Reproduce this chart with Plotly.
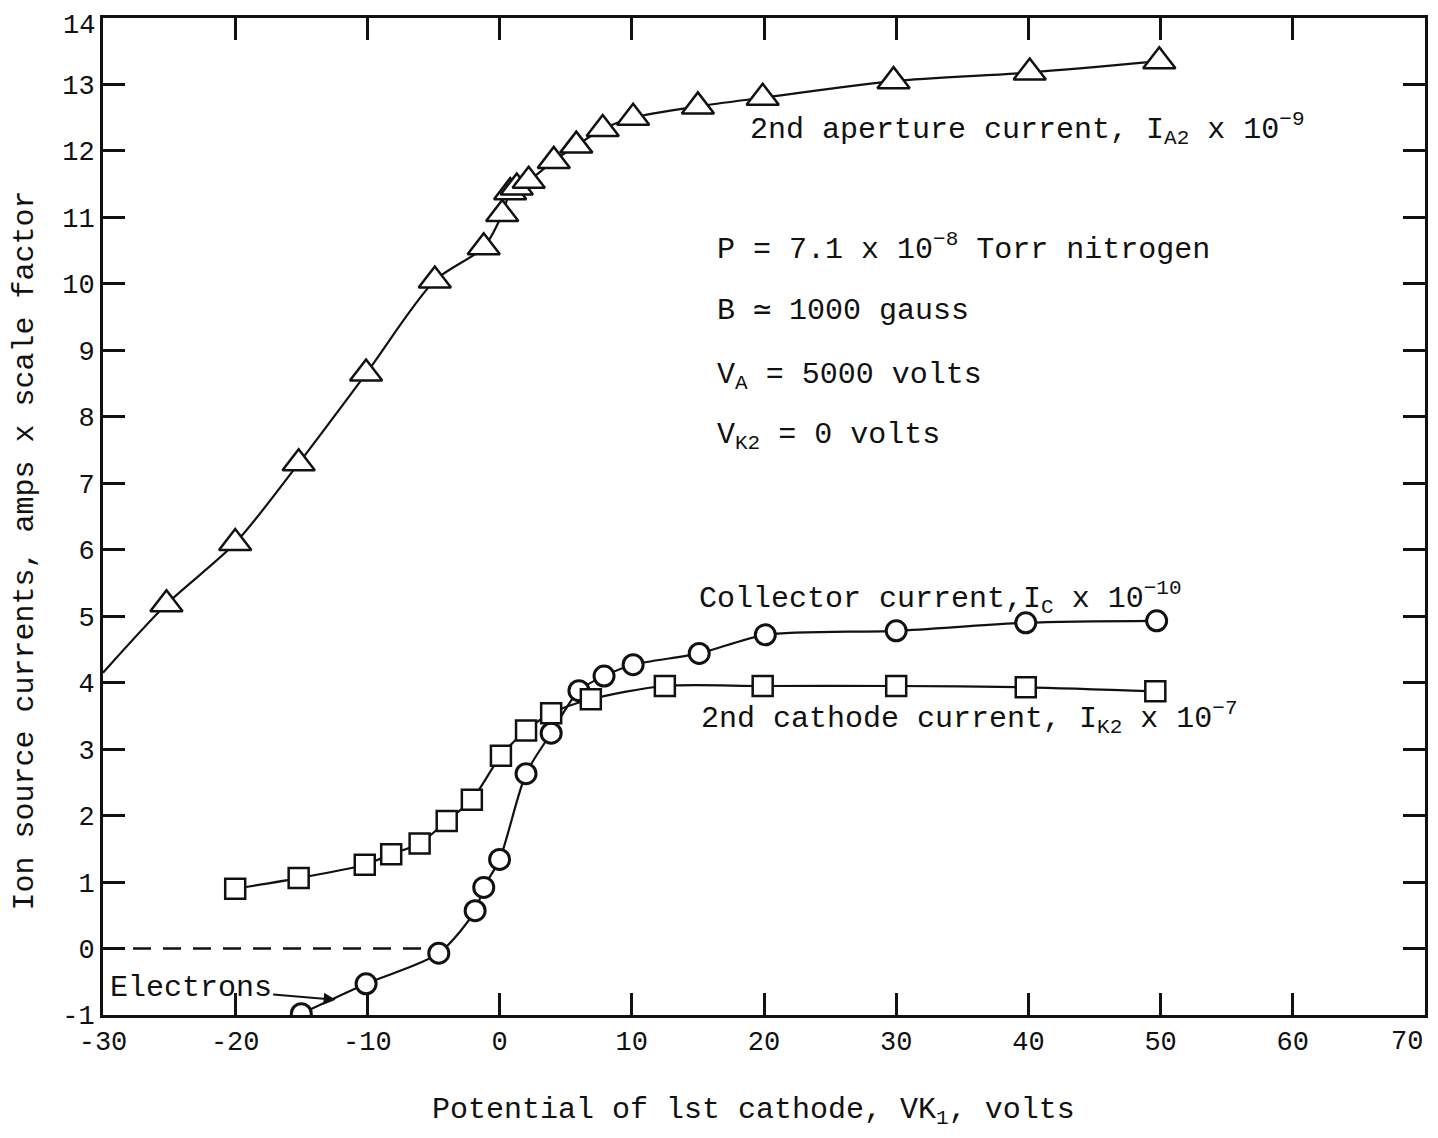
import plotly.graph_objects as go

# ---- data ----
ap_x = [-25.2, -20.0, -15.2, -10.1, -4.9, -1.2, 0.2, 0.8, 1.3, 2.2, 4.1, 5.8, 7.8, 10.1, 15.0, 19.9, 29.8, 40.1, 49.9]
ap_y = [5.18, 6.10, 7.30, 8.65, 10.05, 10.55, 11.05, 11.38, 11.45, 11.55, 11.85, 12.08, 12.33, 12.50, 12.67, 12.80, 13.05, 13.18, 13.35]
ap_start_x = [-30.0]
ap_start_y = [4.15]

col_x = [-15.0, -10.1, -4.6, -1.85, -1.2, 0.0, 2.0, 3.9, 6.0, 7.9, 10.1, 15.1, 20.1, 30.0, 39.8, 49.7]
col_y = [-0.98, -0.53, -0.07, 0.57, 0.92, 1.34, 2.63, 3.24, 3.88, 4.10, 4.27, 4.44, 4.72, 4.78, 4.90, 4.93]

cat_x = [-20.0, -15.2, -10.2, -8.2, -6.05, -4.0, -2.1, 0.1, 2.0, 3.9, 6.9, 12.5, 19.9, 30.0, 39.8, 49.6]
cat_y = [0.90, 1.06, 1.26, 1.42, 1.58, 1.92, 2.24, 2.90, 3.28, 3.54, 3.75, 3.95, 3.95, 3.95, 3.93, 3.87]

electron_zero_x = [-30.0, -4.8]
electron_zero_y = [0.0, 0.0]

x_ticks = [-30, -20, -10, 0, 10, 20, 30, 40, 50, 60, 70]
# the last label (70) sits flush with the right edge, so it is drawn right-aligned separately
x_ticktext = ["-30", "-20", "-10", "0", "10", "20", "30", "40", "50", "60", ""]
x_last_label = "70"
y_ticks = list(range(-1, 15))
# the top label (14) sits at the figure edge, so it is drawn separately too
y_ticktext = [str(v) for v in y_ticks[:-1]] + [""]
y_last_label = "14"

FONT = "Liberation Mono, Courier New, monospace"
BLACK = "#111111"

fig = go.Figure()

# smooth curves
line_style = dict(color=BLACK, width=2.2, shape="spline", smoothing=0.8)
fig.add_trace(go.Scatter(x=ap_start_x + ap_x, y=ap_start_y + ap_y, mode="lines",
                         line=line_style, hoverinfo="skip", showlegend=False))
fig.add_trace(go.Scatter(x=col_x, y=col_y, mode="lines",
                         line=line_style, hoverinfo="skip", showlegend=False))
fig.add_trace(go.Scatter(x=cat_x, y=cat_y, mode="lines",
                         line=line_style, hoverinfo="skip", showlegend=False))
fig.add_trace(go.Scatter(x=electron_zero_x, y=electron_zero_y, mode="lines",
                         line=dict(color=BLACK, width=2.5, dash="18px,12px"),
                         hoverinfo="skip", showlegend=False))

# markers
fig.add_trace(go.Scatter(x=ap_x, y=ap_y, mode="markers", name="2nd aperture current",
                         marker=dict(symbol="triangle-up", size=28, color="white",
                                     line=dict(color=BLACK, width=2.5)), showlegend=False))
fig.add_trace(go.Scatter(x=col_x, y=col_y, mode="markers", name="Collector current",
                         marker=dict(symbol="circle", size=20, color="white",
                                     line=dict(color=BLACK, width=3)), showlegend=False))
fig.add_trace(go.Scatter(x=cat_x, y=cat_y, mode="markers", name="2nd cathode current",
                         marker=dict(symbol="square", size=20, color="white",
                                     line=dict(color=BLACK, width=2.5)), showlegend=False))

tfont = dict(family=FONT, size=30, color=BLACK)
tickfont = dict(family=FONT, size=27, color=BLACK)
ann = []
def text(x, y, s):
    ann.append(dict(x=x, y=y, xref="x", yref="y", text=s, showarrow=False,
                    xanchor="left", yanchor="middle", font=tfont))

text(18.8, 12.33, "2nd aperture current, I<sub>A2</sub> x 10<sup>\u22129</sup>")
text(16.3, 10.54, "P = 7.1 x 10<sup>\u22128</sup> Torr nitrogen")
text(16.3, 9.59, "B \u2243 1000 gauss")
text(16.3, 8.6, "V<sub>A</sub> = 5000 volts")
text(16.3, 7.7, "V<sub>K2</sub> = 0 volts")
text(14.9, 5.28, "Collector current,I<sub>C</sub> x 10<sup>\u221210</sup>")
text(15.1, 3.47, "2nd cathode current, I<sub>K2</sub> x 10<sup>\u22127</sup>")

ann.append(dict(x=-12.4, y=-0.77, xref="x", yref="y", text="Electrons",
                showarrow=True, arrowhead=2, arrowsize=1.2, arrowwidth=2, arrowcolor=BLACK,
                ax=-145, ay=-12, font=tfont))

ann.append(dict(x=x_ticks[-1], y=0, xref="x", yref="paper", text=x_last_label,
                showarrow=False, xanchor="right", yanchor="top", yshift=-10, font=tickfont))
ann.append(dict(x=0, y=y_ticks[-1], xref="paper", yref="y", text=y_last_label,
                showarrow=False, xanchor="right", yanchor="top", xshift=-6, yshift=9,
                font=tickfont))

# axis titles (placed as paper annotations to match the off-centre positions)
ann.append(dict(x=-0.0589, y=0.466, xref="paper", yref="paper", textangle=-90,
                text="Ion source currents, amps x scale factor", showarrow=False,
                xanchor="center", yanchor="middle", font=tfont))
ann.append(dict(x=0.492, y=-0.097, xref="paper", yref="paper",
                text="Potential of lst cathode, VK<sub>1</sub>, volts", showarrow=False,
                xanchor="center", yanchor="middle", font=tfont))

axis_common = dict(showline=True, linecolor=BLACK, linewidth=3, mirror="ticks",
                   ticks="inside", ticklen=22, tickwidth=3, tickcolor=BLACK,
                   showgrid=False, zeroline=False, tickfont=tickfont)

# the page adds an 8px body margin; size the figure so the page does not overflow
fig.update_layout(
    width=1422, height=1122,
    margin=dict(l=95, r=2, t=10, b=115),
    paper_bgcolor="white", plot_bgcolor="white",
    xaxis=dict(range=[-30, 70], tickvals=x_ticks, ticktext=x_ticktext, **axis_common),
    yaxis=dict(range=[-1, 14], tickvals=y_ticks, ticktext=y_ticktext, **axis_common),
    annotations=ann,
)

fig.write_html("out.html")
